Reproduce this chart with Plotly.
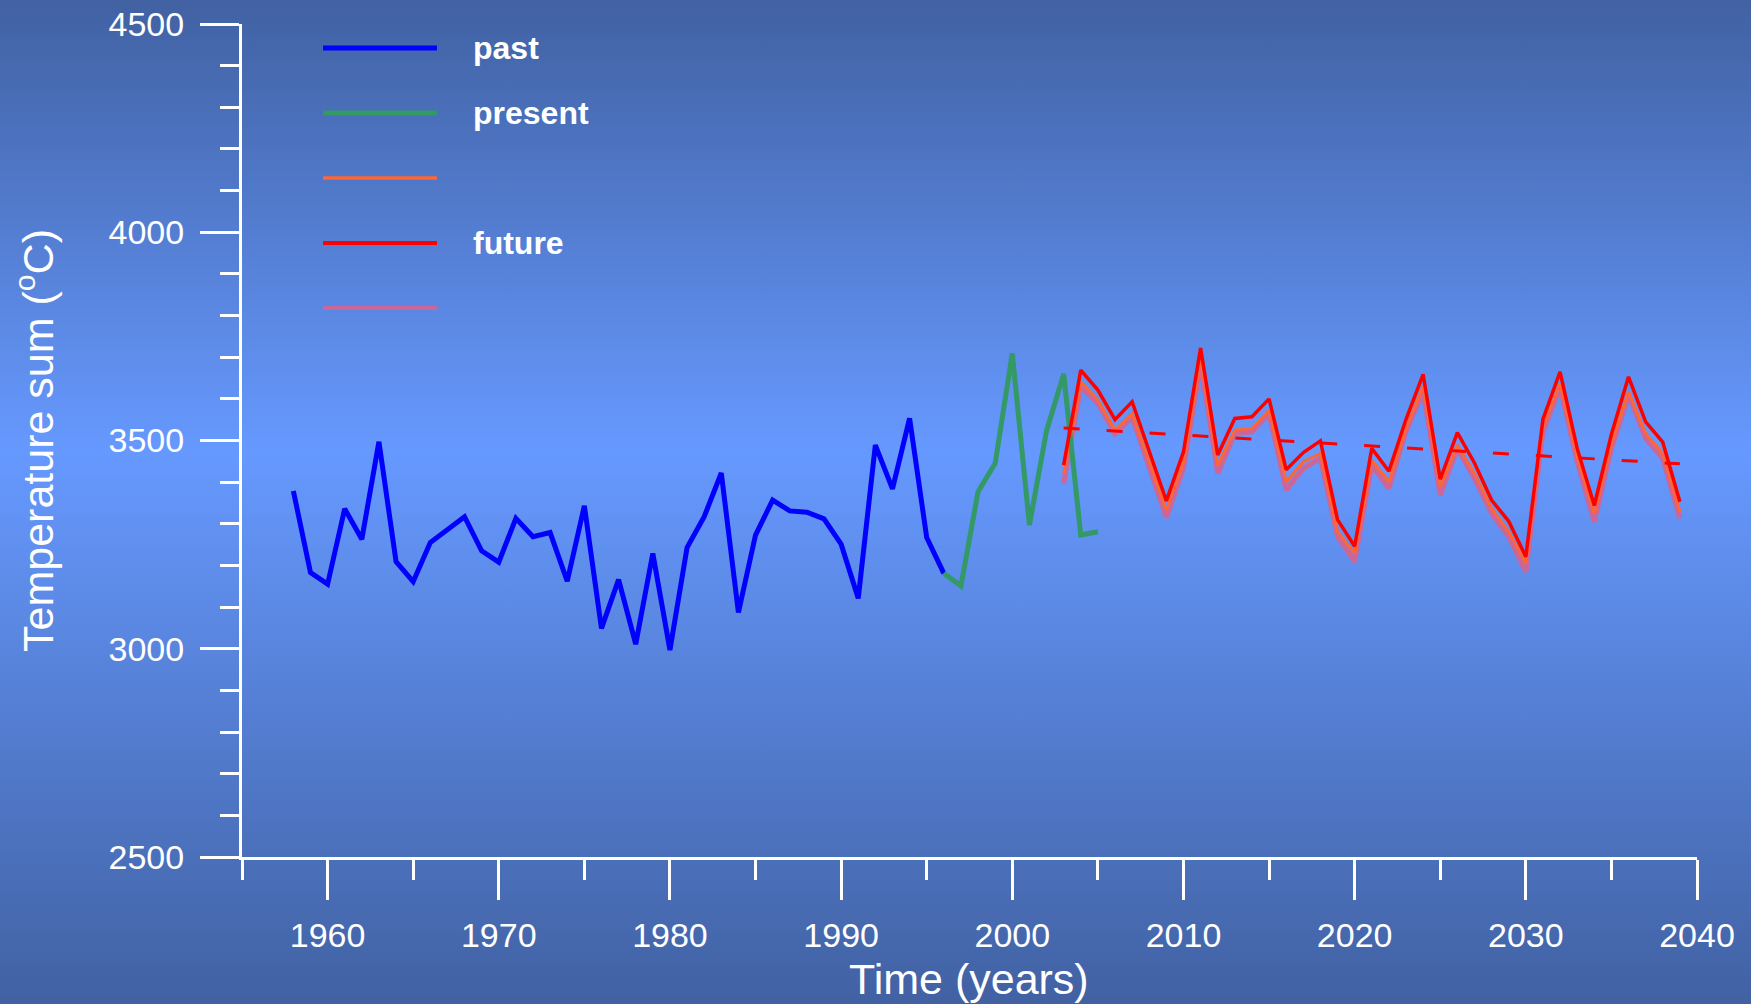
import base64
import plotly.graph_objects as go

# ---------------- data ----------------
past_years = list(range(1958, 1997))
past_values = [3379, 3183, 3155, 3336, 3263, 3497, 3209, 3161, 3255, 3285,
               3317, 3235, 3208, 3313, 3269, 3279, 3162, 3343, 3049, 3166,
               3011, 3229, 2997, 3243, 3317, 3422, 3087, 3273, 3357, 3331,
               3328, 3312, 3251, 3121, 3489, 3384, 3553, 3267, 3181]

present_years = list(range(1996, 2006))
present_values = [3181, 3151, 3377, 3445, 3709, 3297, 3523, 3660, 3273, 3281]

future_years = list(range(2003, 2040))
future_red = [3441, 3669, 3621, 3550, 3593, 3474, 3355, 3473, 3722, 3465,
              3553, 3557, 3600, 3430, 3471, 3499, 3310, 3246, 3481, 3426,
              3551, 3659, 3407, 3519, 3446, 3357, 3306, 3221, 3551, 3665,
              3481, 3344, 3515, 3653, 3545, 3496, 3353]
future_orange = [3420, 3641, 3597, 3525, 3565, 3450, 3333, 3449, 3697, 3441,
                 3525, 3529, 3573, 3401, 3449, 3469, 3281, 3229, 3453, 3401,
                 3530, 3630, 3389, 3489, 3421, 3337, 3281, 3205, 3533, 3637,
                 3461, 3325, 3493, 3617, 3517, 3469, 3329]
future_pink = [3397, 3629, 3589, 3516, 3556, 3436, 3315, 3433, 3685, 3421,
               3517, 3521, 3565, 3381, 3433, 3457, 3269, 3209, 3441, 3385,
               3522, 3618, 3369, 3481, 3409, 3325, 3269, 3185, 3521, 3629,
               3449, 3305, 3481, 3609, 3505, 3457, 3313]

trend_years = [2003, 2039]
trend_values = [3530, 3444]

legend_labels = ["past", "present", "", "future", ""]
legend_colors = ["#0000FF", "#339966", "#FF6633", "#FF0000", "#CC6699"]
legend_widths = [5, 5, 3.5, 4, 4]

x_title = "Time (years)"
y_title = "Temperature sum (<sup>o</sup>C)"

# ---------------- layout geometry ----------------
W, H = 1751, 1004
L, R, T, B = 242, 54, 24, 147
pw, ph = W - L - R, H - T - B

fig = go.Figure()

fig.add_trace(go.Scatter(x=future_years, y=future_pink, mode="lines",
                         line=dict(color="#CC6699", width=5), showlegend=False))
fig.add_trace(go.Scatter(x=future_years, y=future_orange, mode="lines",
                         line=dict(color="#FF6633", width=3), showlegend=False))
fig.add_trace(go.Scatter(x=past_years, y=past_values, mode="lines",
                         line=dict(color="#0000FF", width=5), showlegend=False))
fig.add_trace(go.Scatter(x=present_years, y=present_values, mode="lines",
                         line=dict(color="#339966", width=5), showlegend=False))
fig.add_trace(go.Scatter(x=future_years, y=future_red, mode="lines",
                         line=dict(color="#FF0000", width=3.5), showlegend=False))
fig.add_trace(go.Scatter(x=trend_years, y=trend_values, mode="lines",
                         line=dict(color="#FF0000", width=3, dash="16px,27px"),
                         showlegend=False))

# gradient background via inline SVG
svg = ('<svg xmlns="http://www.w3.org/2000/svg" width="100" height="100" preserveAspectRatio="none">'
       '<defs><linearGradient id="g" x1="0" y1="0" x2="0" y2="1">'
       '<stop offset="0" stop-color="#4161A2"/>'
       '<stop offset="0.45" stop-color="#6699FF"/>'
       '<stop offset="1" stop-color="#4161A2"/>'
       '</linearGradient></defs>'
       '<rect x="0" y="0" width="100" height="100" fill="url(#g)"/></svg>')
src = "data:image/svg+xml;base64," + base64.b64encode(svg.encode()).decode()
fig.add_layout_image(dict(source=src, xref="paper", yref="paper",
                          x=-L / pw, y=1 + T / ph, sizex=W / pw, sizey=H / ph,
                          xanchor="left", yanchor="top", sizing="stretch",
                          layer="below"))

# manual legend (long line samples)
leg_y_px = [48, 113, 178, 243, 308]
for lab, col, lw, ypx in zip(legend_labels, legend_colors, legend_widths, leg_y_px):
    yp = (H - B - ypx) / ph
    fig.add_shape(type="line", xref="paper", yref="paper",
                  x0=(323 - L) / pw, x1=(437 - L) / pw, y0=yp, y1=yp,
                  line=dict(color=col, width=lw))
    if lab:
        fig.add_annotation(xref="paper", yref="paper", x=(471 - L) / pw, y=yp,
                           text="<b>" + lab + "</b>", showarrow=False,
                           xanchor="left", yanchor="middle",
                           font=dict(family="Liberation Sans, Arial", size=32, color="white"))

# axis titles as positioned annotations
fig.add_annotation(xref="paper", yref="paper", x=(969 - L) / pw, y=(H - B - 979) / ph,
                   text=x_title, showarrow=False, xanchor="center", yanchor="middle",
                   font=dict(family="Liberation Sans, Arial", size=43, color="white"))
fig.add_annotation(xref="paper", yref="paper", x=(35 - L) / pw, y=(H - B - 441) / ph,
                   text=y_title, showarrow=False, xanchor="center", yanchor="middle",
                   textangle=-90,
                   font=dict(family="Liberation Sans, Arial", size=43, color="white"))

tick_font = dict(family="Liberation Sans, Arial", size=34, color="white")

fig.update_layout(
    width=W, height=H,
    margin=dict(l=L, r=R, t=T, b=B, pad=0),
    paper_bgcolor="#5580D8",
    plot_bgcolor="rgba(0,0,0,0)",
    showlegend=False,
    xaxis=dict(range=[1955, 2040], showgrid=False, zeroline=False, automargin=False,
               showline=True, linecolor="white", linewidth=3,
               tickmode="linear", tick0=1960, dtick=10,
               ticks="outside", ticklen=40, tickwidth=3, tickcolor="white",
               ticklabelstandoff=6,
               minor=dict(tickmode="linear", tick0=1955, dtick=5, ticks="outside",
                          ticklen=20, tickwidth=3, tickcolor="white", showgrid=False),
               tickfont=tick_font),
    yaxis=dict(range=[2500, 4500], showgrid=False, zeroline=False, automargin=False,
               showline=True, linecolor="white", linewidth=3,
               tickmode="linear", tick0=2500, dtick=500,
               ticks="outside", ticklen=39, tickwidth=3, tickcolor="white",
               ticklabelstandoff=9,
               minor=dict(tickmode="linear", tick0=2500, dtick=100, ticks="outside",
                          ticklen=19, tickwidth=3, tickcolor="white", showgrid=False),
               tickfont=tick_font),
)

fig.write_html("out.html", config={"displayModeBar": False},
               post_script="document.body.style.margin='0';document.body.style.overflow='hidden';")
